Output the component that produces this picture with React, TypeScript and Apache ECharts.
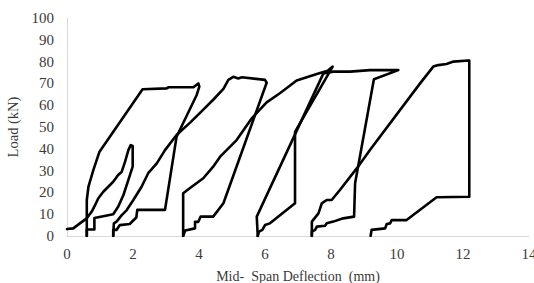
import React, { useEffect, useRef } from "react";
import * as echarts from "echarts";

// Mid-span deflection (mm) vs load (kN), six loading/unloading cycles
const cycle1: number[][] = [
  [0, 3.2], [0.19, 3.5], [0.39, 5.8], [0.6, 8.1], [0.75, 11.2], [0.85, 14.2], [0.95, 17.3],
  [1.1, 20.3], [1.25, 22.6], [1.4, 24.9], [1.55, 28], [1.66, 29.5], [1.76, 34.1], [1.86, 39.4],
  [1.93, 41.7], [1.99, 41.3], [1.99, 31.8], [1.86, 25.7], [1.71, 18.8], [1.55, 13.4], [1.4, 10],
  [0.83, 8.3], [0.83, 3], [0.6, 3], [0.6, 0],
];
const cycle2: number[][] = [
  [0.6, 0], [0.6, 16.5], [0.65, 22.6], [0.8, 30.3], [0.98, 38.5], [2.29, 67.3], [3.02, 67.7],
  [3.07, 68.2], [3.83, 68.2], [3.98, 70], [4.01, 68.5], [3.93, 64.7], [3.32, 45.5], [2.97, 12],
  [2.13, 12], [2.1, 8.5], [1.9, 5.5], [1.6, 5], [1.5, 2.8], [1.4, 2.8], [1.4, 0],
];
const cycle3: number[][] = [
  [1.4, 0], [1.42, 5.8], [1.5, 6.6], [1.66, 9.6], [1.81, 11.9], [2.01, 16.5], [2.26, 22.6],
  [2.46, 28.8], [2.72, 33.3], [2.97, 39.4], [3.32, 46.3], [3.73, 52], [4.13, 58], [4.43, 62.5],
  [4.74, 67.5], [4.89, 71.6], [5.04, 73], [5.19, 72.3], [5.3, 72.8], [6.0, 71.6], [6.05, 70.3],
  [4.74, 15], [4.43, 8.9], [4.05, 8.9], [3.98, 6.5], [3.88, 6.5], [3.88, 3.5], [3.58, 2.5],
  [3.52, 0],
];
const cycle4: number[][] = [
  [3.52, 0], [3.52, 19.6], [3.78, 22.6], [4.13, 26.5], [4.43, 31.8], [4.64, 36.4], [5.14, 44],
  [5.6, 54], [6.05, 61.3], [6.45, 65.5], [6.96, 71.3], [7.57, 74.3], [7.9, 75.8], [8.05, 77.7],
  [6.91, 47.8], [6.91, 15], [6.15, 5.8], [6.0, 5], [5.92, 2.8], [5.82, 2], [5.78, 0],
];
const cycle5: number[][] = [
  [5.78, 0], [5.75, 8.9], [7.77, 74.6], [8.07, 75.4], [8.58, 75.4], [9.18, 76.1], [10.04, 76.1],
  [9.3, 71.9], [8.73, 24.2], [8.7, 8.9], [8.37, 8.1], [8.07, 6.6], [7.87, 5.8], [7.82, 4.7],
  [7.57, 4.3], [7.52, 2.8], [7.42, 2], [7.42, 0],
];
const cycle6: number[][] = [
  [7.42, 0], [7.42, 6.6], [7.62, 10.4], [7.72, 15], [7.87, 16.5], [8.02, 16.5], [8.27, 21.1],
  [8.78, 31], [9.18, 39.4], [10.7, 70], [11.1, 77.7], [11.25, 78.4], [11.5, 78.9], [11.71, 80],
  [12.16, 80.5], [12.19, 80.5], [12.19, 18], [11.2, 17.8], [10.29, 7.3], [9.84, 7.3],
  [9.79, 5.8], [9.69, 5.5], [9.64, 3.5], [9.23, 2.8], [9.2, 0],
];
const cycles = [cycle1, cycle2, cycle3, cycle4, cycle5, cycle6];

const xTicks = { min: 0, max: 14, interval: 2 };
const yTicks = { min: 0, max: 100, interval: 10 };

const FONT = "Liberation Serif";
const TEXT = "#3a3a3a";

export default function App() {
  const ref = useRef<HTMLDivElement>(null);
  useEffect(() => {
    if (!ref.current) return;
    const chart = echarts.init(ref.current, undefined, { renderer: "svg" });
    chart.setOption({
      animation: false,
      backgroundColor: "#ffffff",
      textStyle: { fontFamily: FONT },
      grid: {
        left: 67,
        right: 5,
        top: 18,
        bottom: 47,
        containLabel: false,
        outerBoundsMode: "none",
      },
      xAxis: {
        type: "value",
        min: xTicks.min,
        max: xTicks.max,
        interval: xTicks.interval,
        name: "Mid-  Span Deflection  (mm)",
        nameLocation: "middle",
        nameGap: 33,
        nameTextStyle: { fontFamily: FONT, fontSize: 14, color: TEXT },
        axisLine: { show: true, lineStyle: { color: "#d9d9d9", width: 1 } },
        axisTick: { show: false },
        splitLine: { show: false },
        axisLabel: { fontFamily: FONT, fontSize: 15, color: TEXT, margin: 10 },
      },
      yAxis: {
        type: "value",
        min: yTicks.min,
        max: yTicks.max,
        interval: yTicks.interval,
        name: "Load (kN)",
        nameLocation: "middle",
        nameGap: 43,
        nameTextStyle: { fontFamily: FONT, fontSize: 14.5, color: TEXT },
        axisLine: { show: true, lineStyle: { color: "#d9d9d9", width: 1 } },
        axisTick: { show: false },
        splitLine: { show: false },
        axisLabel: { fontFamily: FONT, fontSize: 15, color: TEXT, margin: 13 },
      },
      series: cycles.map((c, i) => ({
        name: "Cycle " + (i + 1),
        type: "line",
        data: c,
        showSymbol: false,
        symbol: "none",
        lineStyle: { color: "#000000", width: 2.6, join: "round", cap: "round" },
        z: 3,
      })),
    });
    return () => chart.dispose();
  }, []);
  return <div ref={ref} style={{ width: 534, height: 283, position: "absolute", left: 0, top: 0 }} />;
}
